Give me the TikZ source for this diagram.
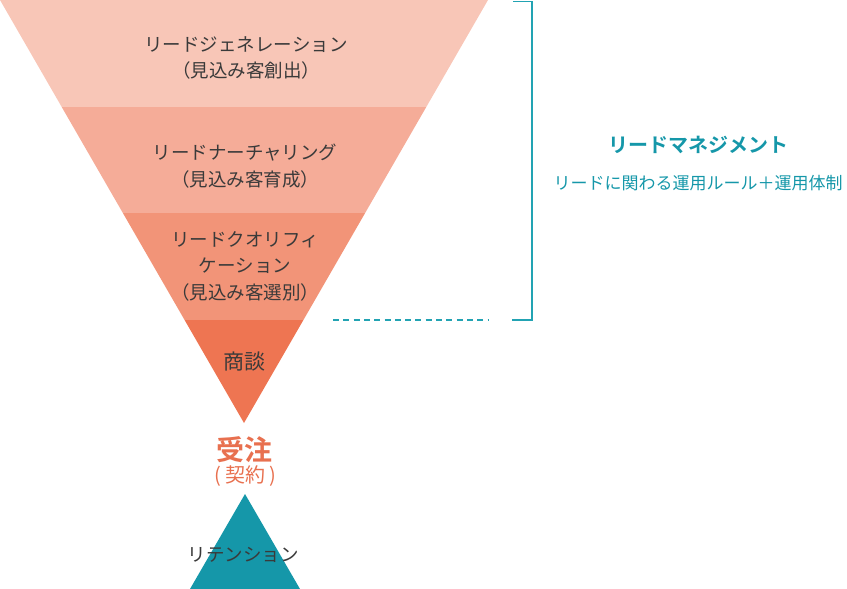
\documentclass[tikz,border=0pt]{standalone}
\usepackage{fontspec}
\setmainfont{Noto Sans CJK JP}
\newfontfamily\jpbold{Noto Sans CJK JP Bold}
\definecolor{bandA}{HTML}{F8C6B7}
\definecolor{bandB}{HTML}{F5AC98}
\definecolor{bandC}{HTML}{F29478}
\definecolor{bandD}{HTML}{EE7552}
\definecolor{teal}{HTML}{1597A9}
\definecolor{bracketc}{HTML}{22A3B3}
\definecolor{txt}{HTML}{3A3A3A}
\definecolor{orderc}{HTML}{E8704F}
\begin{document}
\begin{tikzpicture}[x=1pt,y=-1pt,
  stagetext/.style={text=txt,align=center,font=\fontsize{18.5}{26.5}\selectfont,inner sep=0pt},
  mgmt/.style={text=teal,inner sep=0pt}]
\useasboundingbox (0,0) rectangle (847,589);
\coordinate (tl) at (0,0);
\coordinate (tr) at (488,0);
\coordinate (apex) at (244,423);
\begin{scope}
\clip (tl) -- (tr) -- (apex) -- cycle;
\fill[bandA] (0,0) rectangle (488,107);
\fill[bandB] (0,107) rectangle (488,213);
\fill[bandC] (0,213) rectangle (488,320);
\fill[bandD] (0,320) rectangle (488,430);
\end{scope}
\node[stagetext] (s1) at (246,58) {リードジェネレーション\\（見込み客創出）};
\node[stagetext] (s2) at (245,166) {リードナーチャリング\\（見込み客育成）};
\node[stagetext] (s3) at (245,266) {リードクオリフィ\\ケーション\\（見込み客選別）};
\node[stagetext,font=\fontsize{21}{24}\selectfont] (s4) at (244,362) {商談};
\node[inner sep=0pt,text=orderc,font=\jpbold\fontsize{28}{30}\selectfont] (ord) at (244,450) {受注};
\node[inner sep=0pt,text=orderc,font=\fontsize{20}{22}\selectfont] (ord2) at (245,476) {(\hspace{4pt}契約\hspace{4pt})};
\coordinate (rt) at (245,494);
\coordinate (rl) at (190,589);
\coordinate (rr) at (300,589);
\fill[teal] (rt) -- (rr) -- (rl) -- cycle;
\node[stagetext,font=\fontsize{18.5}{22}\selectfont] (ret) at (243,555) {リテンション};
% bracket
\coordinate (b1) at (513,1.5);
\coordinate (b2) at (532,1.5);
\coordinate (b3) at (532,320);
\coordinate (b4) at (512,320);
\draw[bracketc,line width=1.8pt] (b1) -- (b2) -- (b3) -- (b4);
\coordinate (d1) at (333,320);
\coordinate (d2) at (489,320);
\draw[bracketc,line width=1.5pt,dash pattern=on 6pt off 4.3pt] (d1) -- (d2);
\node[mgmt,font=\jpbold\fontsize{20}{22}\selectfont] (m1) at (698,145) {リードマネジメント};
\node[mgmt,font=\fontsize{17}{19}\selectfont] (m2) at (698,183) {リードに関わる運用ルール＋運用体制};
\end{tikzpicture}
\end{document}
